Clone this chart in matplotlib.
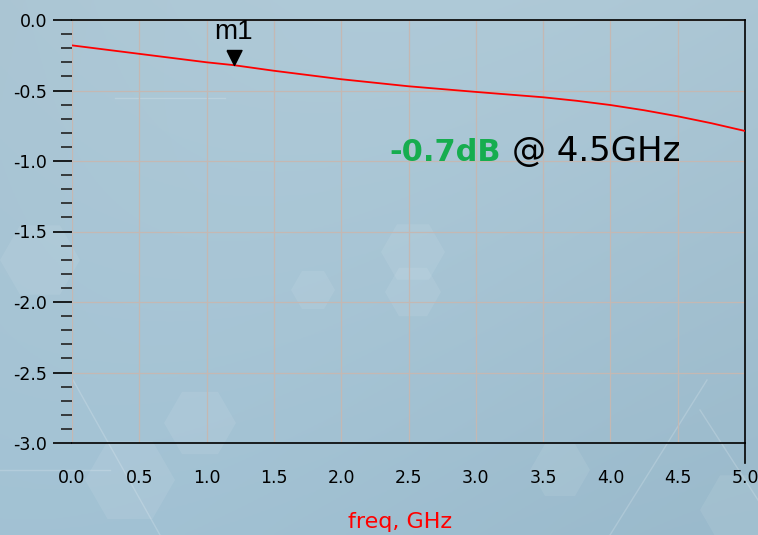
import numpy as np
import matplotlib.pyplot as plt
from matplotlib.patches import RegularPolygon
from matplotlib.ticker import MultipleLocator

plt.rcParams['font.family'] = ['DejaVu Sans']

# insertion loss trace (dB) vs frequency (GHz)
freq = [0.0, 0.5, 1.0, 1.2, 1.5, 2.0, 2.5, 3.0, 3.5, 3.75, 4.0, 4.25, 4.5, 4.75, 5.0]
s21_db = [-0.18, -0.24, -0.30, -0.32, -0.36, -0.42, -0.47, -0.51, -0.548, -0.573,
          -0.603, -0.64, -0.683, -0.732, -0.787]

marker_freq = 1.2
marker_db = -0.32
x_ticks = [0.0, 0.5, 1.0, 1.5, 2.0, 2.5, 3.0, 3.5, 4.0, 4.5, 5.0]
y_ticks = [0.0, -0.5, -1.0, -1.5, -2.0, -2.5, -3.0]

W, H = 758, 535
fig = plt.figure(figsize=(W / 100, H / 100), dpi=100)

# background: soft blue gradient with faint hexagons and streaks
bg = fig.add_axes([0, 0, 1, 1], zorder=-1)
yy, xx = np.mgrid[0:1:200j, 0:1:300j]
top = np.array([0.67, 0.775, 0.83])
bot = np.array([0.62, 0.745, 0.815])
grad = top * (1 - yy[..., None]) + bot * yy[..., None]
grad += 0.015 * np.sin(3.0 * xx[..., None] + 1.5 * yy[..., None])
bg.imshow(np.clip(grad, 0, 1), extent=[0, W, H, 0], aspect='auto')
hexes = [(413, 252, 32), (413, 292, 28), (313, 290, 22), (200, 423, 36),
         (130, 480, 45), (740, 510, 40), (560, 470, 30), (40, 260, 40)]
for cx, cy, r in hexes:
    bg.add_patch(RegularPolygon((cx, cy), 6, radius=r, orientation=np.pi / 6,
                                facecolor='white', edgecolor='none', alpha=0.08))
for x0, y0, x1, y1 in [(73, 380, 160, 535), (707, 380, 610, 535),
                       (700, 410, 758, 500), (0, 470, 110, 470),
                       (115, 98, 225, 98)]:
    bg.plot([x0, x1], [y0, y1], color='white', alpha=0.18, lw=1)
bg.set_xlim(0, W)
bg.set_ylim(H, 0)
bg.axis('off')

ax = fig.add_axes([72 / W, 1 - 443 / H, (745 - 72) / W, (443 - 20) / H])
ax.set_facecolor('none')
ax.set_xlim(0, 5)
ax.set_ylim(-3, 0)

ax.grid(True, color='#c4b8b3', linewidth=0.9)
ax.set_axisbelow(True)

ax.plot(freq, s21_db, color='red', linewidth=1.3, zorder=3)

# marker m1: triangle whose tip sits on the trace
tri = [(-0.5, 1.0), (0.5, 1.0), (0.0, 0.0), (-0.5, 1.0)]
ax.plot([marker_freq], [marker_db], marker=tri, color='black', markersize=21.6,
        linestyle='none', zorder=4)
ax.annotate('m1', (marker_freq, marker_db), xytext=(0, 18.7), textcoords='offset points',
            ha='center', va='baseline', fontsize=20, family='Liberation Sans')

# spines: top, bottom, right only
ax.spines['left'].set_visible(False)
for s in ['top', 'bottom', 'right']:
    ax.spines[s].set_color('black')
    ax.spines[s].set_linewidth(1.2)

ax.set_yticks(y_ticks)
ax.set_yticklabels([f'{v:.1f}' for v in y_ticks], fontsize=12.5)
ax.yaxis.set_minor_locator(MultipleLocator(0.1))
ax.tick_params(axis='y', which='major', length=14, width=1.2, color='black', pad=4)
ax.tick_params(axis='y', which='minor', length=8, width=1.2, color='#222222')

ax.set_xticks(x_ticks)
ax.set_xticklabels([f'{v:.1f}' for v in x_ticks], fontsize=12.5)
ax.tick_params(axis='x', which='major', length=0, pad=19)

# extend the right edge below the axis
ax.plot([5, 5], [-3, -3.14], color='black', linewidth=1.2, clip_on=False)

ax.set_xlabel('freq, GHz', color='red', fontsize=16)
ax.xaxis.set_label_coords(0.488, -0.163)

ax.text(389 / W, 1 - 161 / H, '-0.7dB', transform=fig.transFigure, fontsize=22,
        fontweight='bold', color='#16ad4f', va='baseline')
ax.text(512 / W, 1 - 161 / H, '@ 4.5GHz', transform=fig.transFigure,
        fontsize=24.5, color='black', va='baseline')

fig.savefig('out.png', dpi=100)
